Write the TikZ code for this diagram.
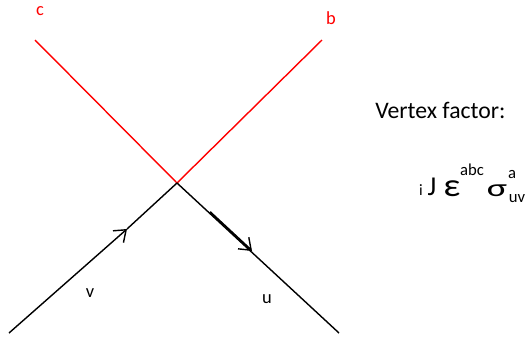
\documentclass[tikz,border=0pt]{standalone}
\usepackage{fontspec}
\setmainfont{Carlito}
\usetikzlibrary{arrows.meta}

\begin{document}
\begin{tikzpicture}[x=0.02cm,y=-0.02cm,
    line/.style={line width=0.8pt},
    gluon/.style={line width=0.8pt,red},
    arr/.style={line width=0.8pt,-{Straight Barb[length=6pt,width=9pt,line width=0.8pt]}},
    lbl/.style={anchor=base,inner sep=0pt,font=\fontsize{10.5}{12}\selectfont}]
  \useasboundingbox (0,0) rectangle (527,339);
  \coordinate (X)  at (177,183);
  \coordinate (C)  at (35,40);
  \coordinate (B)  at (322,40);
  \coordinate (V)  at (9,333);
  \coordinate (U)  at (339,333);
  \coordinate (Vt) at (127,229);
  \coordinate (Us) at (210,212);
  \coordinate (Ut) at (252,251);

  \draw[gluon] (X) -- (C);
  \draw[gluon] (X) -- (B);
  \draw[arr] (V) -- (Vt);
  \draw[line] (Vt) -- (X);
  \draw[line] (X) -- (U);
  \draw[arr,line width=1.2pt] (Us) -- (Ut);

  \node[lbl,red] (c) at (40,15)  {c};
  \node[lbl,red] (b) at (331,24) {b};
  \node[lbl]     (v) at (90,297) {v};
  \node[lbl]     (u) at (267,303) {u};

  \node[anchor=base west,inner sep=0pt,font=\fontsize{13.5}{16}\selectfont]
    (title) at (375,118) {Vertex factor:};
  \node[lbl,font=\fontsize{9}{10}\selectfont]   (fi)   at (421,195) {i};
  \node[lbl,font=\fontsize{15.5}{18}\selectfont] (fJ)  at (432,195) {J};
  \node[lbl,font=\fontsize{18.5}{20}\selectfont] (feps) at (452,196) {\scalebox{1.15}[1]{ε}};
  \node[lbl,font=\fontsize{9.5}{10}\selectfont] (fabc) at (472,175) {abc};
  \node[lbl,font=\fontsize{14}{16}\selectfont]   (fsig) at (497,196) {\scalebox{1.55}[1]{σ}};
  \node[lbl,font=\fontsize{9.5}{10}\selectfont] (fa)   at (512,178) {a};
  \node[lbl,font=\fontsize{9.5}{10}\selectfont] (fuv)  at (517,202) {uv};
\end{tikzpicture}
\end{document}
